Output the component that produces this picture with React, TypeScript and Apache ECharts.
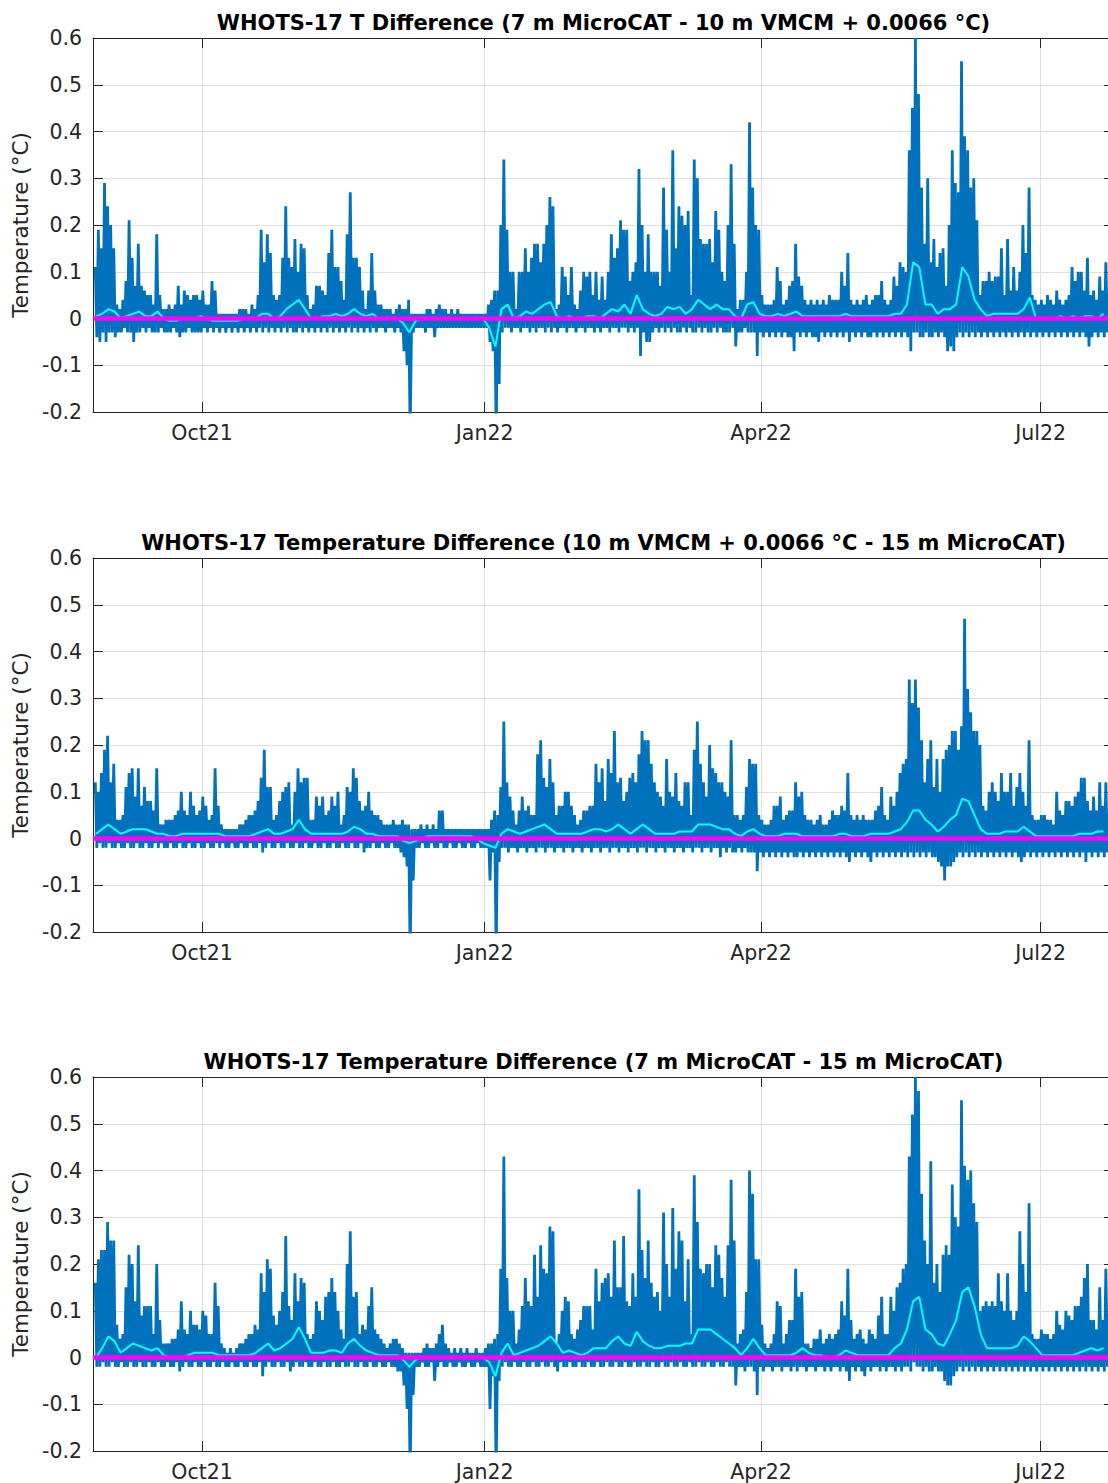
import React, { useEffect, useRef } from "react";
import * as echarts from "echarts";

// Daily upper / lower envelopes of the hourly differences (°C), day 0 = 27 Aug 2021
const p1Hi = [
  0.11,0.19,0.15,0.29,0.24,0.20,0.15,0.03,0.02,0.04,
  0.08,0.21,0.13,0.07,0.16,0.07,0.06,0.05,0.05,0.03,
  0.18,0.05,0.02,0.02,0.03,0.02,0.03,0.07,0.03,0.06,
  0.05,0.04,0.05,0.05,0.04,0.06,0.03,0.03,0.08,0.06,
  0.01,0.01,0.01,0.01,0.01,0.01,0.01,0.02,0.02,0.02,
  0.01,0.03,0.02,0.05,0.19,0.12,0.18,0.14,0.05,0.04,
  0.05,0.13,0.24,0.13,0.11,0.17,0.10,0.16,0.15,0.05,
  0.02,0.03,0.07,0.07,0.06,0.05,0.14,0.19,0.11,0.11,
  0.08,0.04,0.18,0.27,0.13,0.13,0.11,0.06,0.02,0.06,
  0.14,0.06,0.03,0.03,0.02,0.02,0.02,0.01,0.02,0.03,
  0.02,0.02,0.04,0.01,0.01,0.01,0.01,0.01,0.02,0.02,
  0.01,0.02,0.03,0.02,0.02,0.01,0.02,0.01,0.02,0.01,
  0.01,0.01,0.01,0.01,0.01,0.01,0.01,0.01,0.03,0.04,
  0.06,0.06,0.20,0.34,0.19,0.10,0.10,0.02,0.10,0.10,
  0.15,0.10,0.13,0.16,0.16,0.12,0.16,0.20,0.26,0.24,
  0.02,0.03,0.11,0.09,0.05,0.11,0.03,0.02,0.06,0.10,
  0.09,0.10,0.05,0.10,0.04,0.09,0.04,0.10,0.18,0.13,
  0.15,0.21,0.19,0.19,0.08,0.10,0.12,0.32,0.20,0.10,
  0.18,0.10,0.10,0.10,0.07,0.28,0.19,0.10,0.36,0.15,
  0.24,0.22,0.20,0.23,0.05,0.34,0.30,0.17,0.16,0.16,
  0.17,0.12,0.23,0.19,0.10,0.08,0.20,0.33,0.16,0.02,
  0.04,0.04,0.10,0.42,0.28,0.20,0.19,0.05,0.03,0.03,
  0.03,0.04,0.11,0.08,0.03,0.04,0.07,0.08,0.16,0.09,
  0.07,0.04,0.03,0.04,0.03,0.04,0.03,0.04,0.03,0.05,
  0.04,0.04,0.04,0.10,0.07,0.14,0.04,0.03,0.04,0.03,
  0.04,0.05,0.03,0.04,0.05,0.05,0.08,0.04,0.03,0.04,
  0.09,0.07,0.12,0.11,0.10,0.36,0.45,0.60,0.48,0.28,
  0.16,0.30,0.12,0.17,0.11,0.14,0.15,0.07,0.20,0.36,
  0.29,0.27,0.55,0.39,0.36,0.28,0.30,0.21,0.05,0.08,
  0.08,0.10,0.08,0.09,0.09,0.15,0.05,0.17,0.06,0.11,
  0.06,0.10,0.20,0.14,0.28,0.05,0.04,0.03,0.04,0.03,
  0.05,0.04,0.03,0.06,0.04,0.03,0.04,0.05,0.11,0.08,
  0.10,0.10,0.06,0.13,0.05,0.06,0.04,0.09,0.06,0.12,
];
const p1Lo = [
  -0.04,-0.05,-0.03,-0.05,-0.03,-0.03,-0.04,-0.03,-0.03,-0.02,
  -0.03,-0.03,-0.05,-0.03,-0.03,-0.02,-0.03,-0.02,-0.03,-0.03,
  -0.03,-0.02,-0.03,-0.03,-0.03,-0.02,-0.03,-0.04,-0.03,-0.03,
  -0.02,-0.03,-0.03,-0.03,-0.03,-0.02,-0.03,-0.02,-0.03,-0.02,
  -0.03,-0.02,-0.03,-0.02,-0.03,-0.02,-0.03,-0.02,-0.03,-0.02,
  -0.03,-0.02,-0.03,-0.02,-0.03,-0.02,-0.03,-0.02,-0.03,-0.02,
  -0.03,-0.02,-0.03,-0.02,-0.03,-0.03,-0.02,-0.03,-0.02,-0.03,
  -0.02,-0.03,-0.02,-0.03,-0.02,-0.03,-0.02,-0.03,-0.02,-0.03,
  -0.02,-0.03,-0.02,-0.03,-0.02,-0.03,-0.02,-0.03,-0.02,-0.03,
  -0.02,-0.03,-0.02,-0.02,-0.03,-0.02,-0.02,-0.03,-0.02,-0.03,
  -0.07,-0.10,-0.25,-0.03,-0.02,-0.02,-0.02,-0.03,-0.02,-0.02,
  -0.04,-0.02,-0.02,-0.02,-0.02,-0.02,-0.02,-0.02,-0.02,-0.02,
  -0.02,-0.02,-0.02,-0.02,-0.02,-0.02,-0.02,-0.02,-0.05,-0.07,
  -0.25,-0.14,-0.03,-0.02,-0.02,-0.03,-0.02,-0.02,-0.03,-0.02,
  -0.02,-0.03,-0.02,-0.03,-0.02,-0.02,-0.03,-0.02,-0.03,-0.02,
  -0.03,-0.02,-0.02,-0.03,-0.02,-0.02,-0.03,-0.02,-0.02,-0.03,
  -0.02,-0.02,-0.03,-0.02,-0.03,-0.02,-0.02,-0.03,-0.02,-0.02,
  -0.03,-0.02,-0.02,-0.03,-0.02,-0.03,-0.02,-0.08,-0.03,-0.05,
  -0.05,-0.03,-0.02,-0.03,-0.02,-0.03,-0.02,-0.03,-0.02,-0.03,
  -0.03,-0.02,-0.03,-0.02,-0.03,-0.03,-0.02,-0.03,-0.02,-0.03,
  -0.03,-0.02,-0.03,-0.02,-0.03,-0.03,-0.03,-0.02,-0.06,-0.03,
  -0.03,-0.02,-0.03,-0.03,-0.03,-0.08,-0.03,-0.04,-0.03,-0.04,
  -0.03,-0.04,-0.03,-0.04,-0.03,-0.04,-0.04,-0.07,-0.03,-0.04,
  -0.03,-0.04,-0.03,-0.04,-0.04,-0.05,-0.03,-0.04,-0.03,-0.04,
  -0.03,-0.04,-0.03,-0.04,-0.03,-0.05,-0.03,-0.04,-0.03,-0.04,
  -0.03,-0.04,-0.04,-0.03,-0.04,-0.03,-0.04,-0.03,-0.04,-0.03,
  -0.04,-0.03,-0.04,-0.03,-0.04,-0.07,-0.03,-0.03,-0.04,-0.04,
  -0.03,-0.04,-0.04,-0.03,-0.04,-0.03,-0.04,-0.07,-0.06,-0.07,
  -0.04,-0.03,-0.04,-0.03,-0.04,-0.03,-0.04,-0.03,-0.04,-0.03,
  -0.04,-0.03,-0.04,-0.03,-0.04,-0.03,-0.04,-0.03,-0.04,-0.03,
  -0.04,-0.03,-0.04,-0.03,-0.04,-0.03,-0.04,-0.03,-0.04,-0.03,
  -0.04,-0.03,-0.04,-0.03,-0.04,-0.03,-0.04,-0.03,-0.04,-0.03,
  -0.04,-0.03,-0.04,-0.06,-0.04,-0.03,-0.04,-0.03,-0.04,-0.03,
];

const p2Hi = [
  0.12,0.10,0.14,0.19,0.22,0.12,0.16,0.04,0.04,0.05,
  0.11,0.14,0.15,0.09,0.15,0.07,0.11,0.08,0.08,0.06,
  0.15,0.03,0.03,0.04,0.04,0.04,0.05,0.06,0.10,0.06,
  0.05,0.10,0.07,0.05,0.06,0.09,0.07,0.04,0.05,0.15,
  0.07,0.03,0.02,0.02,0.02,0.02,0.02,0.03,0.03,0.04,
  0.05,0.05,0.06,0.08,0.13,0.19,0.11,0.11,0.04,0.05,
  0.08,0.10,0.11,0.12,0.03,0.10,0.15,0.12,0.13,0.13,
  0.04,0.04,0.09,0.07,0.09,0.05,0.06,0.09,0.07,0.10,
  0.03,0.05,0.11,0.10,0.15,0.13,0.08,0.06,0.07,0.10,
  0.06,0.05,0.05,0.04,0.03,0.03,0.03,0.04,0.03,0.03,
  0.04,0.03,0.03,0.02,0.02,0.02,0.03,0.02,0.03,0.02,
  0.03,0.02,0.06,0.06,0.02,0.02,0.02,0.02,0.02,0.02,
  0.02,0.02,0.02,0.02,0.02,0.02,0.02,0.02,0.02,0.04,
  0.06,0.05,0.11,0.25,0.12,0.09,0.06,0.03,0.06,0.09,
  0.06,0.07,0.05,0.05,0.18,0.21,0.13,0.11,0.17,0.12,
  0.05,0.07,0.07,0.10,0.10,0.07,0.05,0.03,0.04,0.06,
  0.06,0.07,0.07,0.16,0.12,0.15,0.08,0.17,0.14,0.23,
  0.12,0.13,0.08,0.10,0.13,0.14,0.12,0.18,0.23,0.21,
  0.21,0.16,0.12,0.10,0.09,0.07,0.17,0.10,0.09,0.14,
  0.08,0.07,0.12,0.12,0.05,0.19,0.25,0.16,0.12,0.09,
  0.20,0.15,0.14,0.12,0.12,0.10,0.09,0.21,0.05,0.05,
  0.04,0.05,0.11,0.17,0.16,0.16,0.05,0.04,0.03,0.03,
  0.04,0.07,0.07,0.09,0.04,0.05,0.06,0.06,0.12,0.09,
  0.10,0.05,0.04,0.04,0.03,0.04,0.05,0.03,0.03,0.04,
  0.06,0.05,0.05,0.07,0.06,0.14,0.05,0.04,0.05,0.04,
  0.05,0.04,0.04,0.04,0.06,0.07,0.11,0.05,0.04,0.09,
  0.07,0.10,0.14,0.16,0.17,0.34,0.29,0.34,0.28,0.21,
  0.12,0.17,0.21,0.11,0.17,0.10,0.17,0.19,0.20,0.23,
  0.23,0.19,0.24,0.47,0.32,0.27,0.23,0.23,0.20,0.07,
  0.06,0.10,0.12,0.10,0.08,0.14,0.10,0.10,0.14,0.07,
  0.11,0.14,0.10,0.07,0.21,0.05,0.04,0.04,0.05,0.05,
  0.04,0.04,0.03,0.10,0.06,0.05,0.08,0.08,0.07,0.09,
  0.10,0.13,0.13,0.08,0.06,0.09,0.06,0.12,0.07,0.12,
];
const p2Lo = [
  -0.02,-0.01,-0.02,-0.02,-0.01,-0.02,-0.02,-0.01,-0.02,-0.02,
  -0.01,-0.02,-0.02,-0.01,-0.02,-0.02,-0.01,-0.02,-0.02,-0.01,
  -0.02,-0.01,-0.02,-0.02,-0.01,-0.02,-0.02,-0.01,-0.02,-0.02,
  -0.01,-0.02,-0.02,-0.01,-0.02,-0.02,-0.01,-0.02,-0.02,-0.01,
  -0.02,-0.01,-0.02,-0.02,-0.01,-0.02,-0.02,-0.01,-0.02,-0.02,
  -0.01,-0.02,-0.02,-0.01,-0.03,-0.02,-0.01,-0.02,-0.02,-0.01,
  -0.02,-0.02,-0.01,-0.02,-0.02,-0.01,-0.02,-0.02,-0.01,-0.02,
  -0.02,-0.01,-0.02,-0.02,-0.01,-0.02,-0.02,-0.01,-0.02,-0.02,
  -0.01,-0.02,-0.02,-0.01,-0.02,-0.02,-0.01,-0.03,-0.02,-0.02,
  -0.01,-0.02,-0.02,-0.01,-0.02,-0.02,-0.01,-0.02,-0.02,-0.03,
  -0.04,-0.06,-0.25,-0.09,-0.02,-0.02,-0.01,-0.02,-0.02,-0.01,
  -0.02,-0.02,-0.01,-0.02,-0.02,-0.01,-0.02,-0.02,-0.01,-0.02,
  -0.02,-0.01,-0.02,-0.02,-0.01,-0.02,-0.02,-0.02,-0.09,-0.03,
  -0.25,-0.05,-0.02,-0.02,-0.03,-0.02,-0.02,-0.03,-0.02,-0.02,
  -0.03,-0.02,-0.02,-0.03,-0.02,-0.02,-0.03,-0.02,-0.02,-0.03,
  -0.02,-0.02,-0.03,-0.02,-0.02,-0.03,-0.02,-0.02,-0.03,-0.02,
  -0.02,-0.03,-0.02,-0.02,-0.03,-0.02,-0.02,-0.03,-0.02,-0.02,
  -0.03,-0.02,-0.02,-0.03,-0.02,-0.02,-0.03,-0.02,-0.02,-0.03,
  -0.02,-0.02,-0.03,-0.02,-0.02,-0.03,-0.02,-0.02,-0.03,-0.02,
  -0.02,-0.03,-0.02,-0.02,-0.03,-0.02,-0.02,-0.03,-0.02,-0.02,
  -0.03,-0.02,-0.02,-0.04,-0.02,-0.03,-0.02,-0.03,-0.03,-0.02,
  -0.03,-0.02,-0.03,-0.03,-0.03,-0.07,-0.03,-0.04,-0.03,-0.04,
  -0.03,-0.04,-0.03,-0.04,-0.03,-0.04,-0.03,-0.04,-0.04,-0.03,
  -0.04,-0.03,-0.04,-0.03,-0.04,-0.03,-0.04,-0.03,-0.04,-0.03,
  -0.04,-0.03,-0.04,-0.03,-0.04,-0.05,-0.03,-0.04,-0.03,-0.04,
  -0.03,-0.04,-0.05,-0.03,-0.04,-0.03,-0.04,-0.03,-0.04,-0.03,
  -0.04,-0.03,-0.04,-0.03,-0.04,-0.03,-0.04,-0.03,-0.04,-0.03,
  -0.04,-0.03,-0.04,-0.04,-0.05,-0.06,-0.09,-0.06,-0.06,-0.05,
  -0.04,-0.03,-0.04,-0.03,-0.04,-0.03,-0.04,-0.03,-0.04,-0.03,
  -0.04,-0.03,-0.04,-0.03,-0.04,-0.03,-0.04,-0.03,-0.04,-0.03,
  -0.04,-0.05,-0.04,-0.03,-0.04,-0.03,-0.04,-0.03,-0.04,-0.03,
  -0.04,-0.03,-0.04,-0.03,-0.04,-0.03,-0.04,-0.03,-0.04,-0.03,
  -0.04,-0.03,-0.05,-0.03,-0.04,-0.03,-0.04,-0.03,-0.04,-0.03,
];

const p3Hi = [
  0.16,0.21,0.23,0.23,0.29,0.25,0.25,0.07,0.04,0.05,
  0.15,0.22,0.20,0.12,0.24,0.09,0.11,0.11,0.11,0.05,
  0.20,0.08,0.03,0.03,0.03,0.04,0.04,0.06,0.12,0.06,
  0.05,0.10,0.07,0.07,0.06,0.10,0.09,0.05,0.05,0.16,
  0.11,0.03,0.02,0.01,0.02,0.01,0.02,0.03,0.03,0.04,
  0.05,0.05,0.07,0.06,0.18,0.14,0.21,0.19,0.09,0.07,
  0.10,0.14,0.26,0.11,0.08,0.18,0.12,0.17,0.16,0.05,
  0.04,0.05,0.12,0.10,0.08,0.13,0.14,0.17,0.14,0.10,
  0.06,0.04,0.20,0.27,0.13,0.14,0.05,0.07,0.06,0.11,
  0.15,0.06,0.05,0.04,0.03,0.02,0.03,0.04,0.04,0.03,
  0.02,0.01,0.01,0.01,0.01,0.01,0.01,0.02,0.03,0.02,
  0.02,0.03,0.05,0.07,0.03,0.02,0.01,0.02,0.01,0.02,
  0.01,0.02,0.01,0.01,0.02,0.01,0.01,0.02,0.03,0.03,
  0.04,0.05,0.19,0.43,0.17,0.10,0.10,0.03,0.06,0.11,
  0.17,0.12,0.11,0.22,0.13,0.24,0.19,0.18,0.28,0.27,
  0.03,0.05,0.10,0.13,0.12,0.05,0.04,0.06,0.08,0.11,
  0.11,0.11,0.06,0.19,0.12,0.16,0.17,0.18,0.13,0.25,
  0.15,0.15,0.26,0.12,0.11,0.18,0.13,0.36,0.23,0.17,
  0.25,0.16,0.13,0.14,0.10,0.31,0.20,0.13,0.32,0.19,
  0.27,0.25,0.12,0.21,0.05,0.39,0.29,0.19,0.18,0.20,
  0.20,0.15,0.24,0.22,0.17,0.13,0.24,0.38,0.25,0.03,
  0.05,0.06,0.14,0.40,0.35,0.21,0.21,0.07,0.03,0.02,
  0.03,0.05,0.12,0.11,0.03,0.05,0.08,0.08,0.19,0.13,
  0.14,0.03,0.03,0.02,0.04,0.04,0.06,0.03,0.04,0.05,
  0.04,0.05,0.06,0.12,0.09,0.19,0.08,0.04,0.05,0.06,
  0.04,0.03,0.06,0.05,0.04,0.09,0.13,0.05,0.05,0.13,
  0.10,0.15,0.16,0.19,0.20,0.43,0.52,0.60,0.57,0.35,
  0.25,0.20,0.42,0.16,0.20,0.14,0.22,0.24,0.22,0.37,
  0.30,0.28,0.55,0.41,0.38,0.40,0.33,0.29,0.10,0.11,
  0.12,0.11,0.12,0.11,0.18,0.12,0.10,0.18,0.10,0.08,
  0.10,0.27,0.20,0.14,0.33,0.05,0.04,0.04,0.06,0.05,
  0.05,0.04,0.05,0.10,0.07,0.06,0.10,0.09,0.08,0.11,
  0.11,0.13,0.17,0.20,0.08,0.08,0.06,0.15,0.08,0.19,
];
const p3Lo = [
  -0.02,-0.02,-0.01,-0.02,-0.02,-0.01,-0.02,-0.02,-0.01,-0.02,
  -0.02,-0.01,-0.02,-0.02,-0.01,-0.02,-0.02,-0.01,-0.02,-0.02,
  -0.01,-0.02,-0.02,-0.01,-0.02,-0.02,-0.01,-0.03,-0.02,-0.01,
  -0.02,-0.02,-0.01,-0.02,-0.02,-0.01,-0.02,-0.02,-0.01,-0.02,
  -0.02,-0.01,-0.02,-0.02,-0.01,-0.02,-0.02,-0.01,-0.02,-0.02,
  -0.01,-0.02,-0.02,-0.01,-0.04,-0.02,-0.01,-0.02,-0.02,-0.01,
  -0.02,-0.02,-0.01,-0.03,-0.02,-0.01,-0.02,-0.02,-0.01,-0.02,
  -0.02,-0.01,-0.02,-0.02,-0.01,-0.02,-0.02,-0.01,-0.02,-0.02,
  -0.01,-0.02,-0.02,-0.01,-0.02,-0.02,-0.01,-0.02,-0.02,-0.01,
  -0.02,-0.02,-0.01,-0.02,-0.02,-0.01,-0.02,-0.02,-0.03,-0.03,
  -0.06,-0.11,-0.25,-0.08,-0.02,-0.02,-0.01,-0.02,-0.02,-0.01,
  -0.05,-0.02,-0.01,-0.02,-0.02,-0.01,-0.02,-0.02,-0.01,-0.02,
  -0.02,-0.01,-0.02,-0.02,-0.01,-0.02,-0.02,-0.02,-0.11,-0.04,
  -0.25,-0.05,-0.02,-0.01,-0.02,-0.02,-0.01,-0.02,-0.02,-0.01,
  -0.02,-0.02,-0.01,-0.02,-0.02,-0.01,-0.02,-0.02,-0.01,-0.02,
  -0.03,-0.01,-0.02,-0.02,-0.01,-0.02,-0.02,-0.01,-0.02,-0.02,
  -0.01,-0.02,-0.02,-0.01,-0.02,-0.02,-0.01,-0.02,-0.02,-0.01,
  -0.02,-0.02,-0.01,-0.02,-0.02,-0.01,-0.02,-0.02,-0.01,-0.02,
  -0.02,-0.01,-0.02,-0.02,-0.01,-0.02,-0.02,-0.01,-0.02,-0.02,
  -0.01,-0.02,-0.02,-0.01,-0.02,-0.02,-0.01,-0.02,-0.02,-0.01,
  -0.02,-0.02,-0.01,-0.02,-0.02,-0.01,-0.02,-0.02,-0.06,-0.02,
  -0.02,-0.03,-0.02,-0.02,-0.03,-0.08,-0.02,-0.03,-0.02,-0.02,
  -0.03,-0.02,-0.02,-0.03,-0.02,-0.02,-0.03,-0.02,-0.03,-0.02,
  -0.02,-0.03,-0.02,-0.02,-0.03,-0.02,-0.02,-0.03,-0.02,-0.03,
  -0.02,-0.02,-0.03,-0.02,-0.03,-0.05,-0.02,-0.03,-0.02,-0.03,
  -0.04,-0.02,-0.03,-0.02,-0.02,-0.03,-0.02,-0.03,-0.02,-0.02,
  -0.03,-0.02,-0.03,-0.02,-0.02,-0.03,-0.01,-0.02,-0.02,-0.03,
  -0.02,-0.03,-0.03,-0.02,-0.03,-0.03,-0.05,-0.06,-0.06,-0.04,
  -0.03,-0.02,-0.03,-0.02,-0.03,-0.02,-0.03,-0.02,-0.03,-0.02,
  -0.03,-0.02,-0.03,-0.02,-0.03,-0.02,-0.03,-0.02,-0.03,-0.02,
  -0.03,-0.02,-0.03,-0.02,-0.03,-0.02,-0.03,-0.02,-0.03,-0.02,
  -0.03,-0.02,-0.03,-0.02,-0.03,-0.02,-0.03,-0.02,-0.03,-0.02,
  -0.03,-0.02,-0.03,-0.02,-0.03,-0.02,-0.03,-0.02,-0.03,-0.02,
];

// Low-passed difference (°C), one value every second day from day 0
const p1Smooth = [
  0.005,0.01,0.02,0.015,0.0,0.005,0.01,0.015,0.005,0.005,
  0.015,0.0,-0.005,-0.005,0.0,0.0,0.0,0.005,0.0,-0.005,
  -0.005,-0.005,-0.005,-0.005,0.0,0.0,0.0,0.01,0.01,0.0,
  0.005,0.02,0.03,0.04,0.02,0.0,0.0,0.005,0.005,0.01,
  0.005,0.01,0.02,0.01,0.005,0.01,0.0,0.0,0.0,0.0,
  -0.01,-0.03,-0.005,0.0,0.0,0.0,0.0,0.0,0.0,0.0,
  0.0,0.0,0.0,0.0,-0.02,-0.06,0.02,0.03,0.0,0.005,
  0.015,0.01,0.02,0.03,0.035,0.005,0.0,0.005,0.0,0.0,
  0.005,0.005,0.0,0.01,0.02,0.015,0.03,0.01,0.05,0.02,
  0.01,0.005,0.01,0.025,0.02,0.025,0.01,0.02,0.04,0.03,
  0.02,0.03,0.02,0.02,0.005,0.0,0.03,0.035,0.01,0.005,
  0.005,0.01,0.005,0.01,0.015,0.005,0.005,0.005,0.005,0.005,
  0.005,0.005,0.01,0.005,0.005,0.005,0.005,0.005,0.005,0.005,
  0.01,0.01,0.03,0.12,0.11,0.03,0.03,0.01,0.02,0.02,
  0.03,0.11,0.09,0.04,0.02,0.005,0.01,0.01,0.01,0.01,
  0.01,0.02,0.045,0.0,0.0,0.0,0.0,0.005,0.0,0.005,
  0.0,0.005,0.005,0.0,0.01,
];
const p2Smooth = [
  0.01,0.02,0.03,0.02,0.01,0.015,0.02,0.02,0.02,0.015,
  0.01,0.01,0.005,0.005,0.01,0.01,0.01,0.01,0.01,0.01,
  0.01,0.005,0.005,0.005,0.005,0.005,0.01,0.015,0.02,0.01,
  0.01,0.015,0.02,0.04,0.02,0.01,0.01,0.01,0.01,0.01,
  0.01,0.015,0.025,0.02,0.01,0.01,0.005,0.005,0.005,0.005,
  -0.005,-0.01,-0.005,0.0,0.005,0.005,0.005,0.005,0.005,0.005,
  0.005,0.005,0.0,-0.01,-0.015,-0.02,0.01,0.02,0.015,0.01,
  0.015,0.02,0.025,0.03,0.02,0.01,0.01,0.01,0.01,0.01,
  0.015,0.02,0.02,0.015,0.02,0.03,0.02,0.01,0.02,0.03,
  0.02,0.01,0.01,0.01,0.01,0.015,0.015,0.015,0.03,0.03,
  0.03,0.025,0.02,0.02,0.01,0.005,0.015,0.02,0.01,0.005,
  0.005,0.005,0.01,0.01,0.01,0.005,0.005,0.005,0.005,0.005,
  0.005,0.01,0.01,0.005,0.005,0.005,0.01,0.01,0.01,0.01,
  0.015,0.02,0.035,0.06,0.06,0.04,0.03,0.015,0.025,0.04,
  0.05,0.085,0.08,0.05,0.02,0.01,0.01,0.01,0.015,0.015,
  0.015,0.025,0.015,0.005,0.005,0.005,0.005,0.005,0.005,0.005,
  0.01,0.01,0.01,0.015,0.015,
];
const p3Smooth = [
  0.0,0.02,0.045,0.035,0.01,0.02,0.03,0.025,0.02,0.015,
  0.02,0.005,0.0,0.0,0.0,0.005,0.01,0.01,0.01,0.01,
  0.005,0.005,0.005,0.005,0.005,0.005,0.01,0.02,0.03,0.015,
  0.02,0.03,0.04,0.065,0.04,0.01,0.01,0.01,0.015,0.015,
  0.01,0.03,0.04,0.025,0.015,0.01,0.005,0.005,0.005,0.005,
  -0.005,-0.02,-0.005,0.0,0.0,0.0,0.0,0.0,0.0,0.0,
  0.0,0.0,0.0,0.0,-0.01,-0.04,0.01,0.03,0.005,0.01,
  0.015,0.02,0.025,0.035,0.045,0.03,0.01,0.015,0.01,0.005,
  0.01,0.02,0.02,0.02,0.035,0.045,0.03,0.025,0.055,0.035,
  0.025,0.02,0.02,0.025,0.025,0.025,0.03,0.03,0.06,0.06,
  0.06,0.05,0.04,0.03,0.02,0.005,0.02,0.04,0.02,0.005,
  0.005,0.005,0.005,0.005,0.01,0.02,0.01,0.005,0.005,0.0,
  0.0,0.005,0.015,0.01,0.005,0.005,0.005,0.005,0.005,0.005,
  0.02,0.03,0.06,0.12,0.13,0.06,0.05,0.03,0.025,0.05,
  0.08,0.14,0.15,0.11,0.05,0.02,0.02,0.02,0.02,0.02,
  0.025,0.045,0.035,0.02,0.005,0.005,0.005,0.005,0.005,0.005,
  0.01,0.015,0.02,0.015,0.02,
];

const panelTitles = [
  "WHOTS-17 T Difference (7 m MicroCAT - 10 m VMCM + 0.0066 °C)",
  "WHOTS-17 Temperature Difference (10 m VMCM + 0.0066 °C - 15 m MicroCAT)",
  "WHOTS-17 Temperature Difference (7 m MicroCAT - 15 m MicroCAT)",
];
const tickLabels = ["Oct21", "Jan22", "Apr22", "Jul22"];
const tickTimes = [
  Date.UTC(2021, 9, 1),
  Date.UTC(2022, 0, 1),
  Date.UTC(2022, 3, 1),
  Date.UTC(2022, 6, 1),
];
const yAxisName = "Temperature (°C)";

const DAY = 86400000;
const T0 = Date.UTC(2021, 7, 27);
const X_MIN = Date.UTC(2021, 7, 26, 12);
const X_MAX = Date.UTC(2022, 6, 24, 21, 36);

const BLUE = "#0072BD";
const CYAN = "#00FFFF";
const MAGENTA = "#FF00FF";
const INK = "#262626";
const GRIDLINE = "#e0e0e0";
const FONT = "DejaVu Sans";

// the axes box runs a little past the right edge of the page
const CHART_WIDTH = 1124;
const PAGE_WIDTH = 1108;
const PAGE_HEIGHT = 1483;
const GRID_LEFT = 93;
const GRID_WIDTH = 1021;
const GRID_HEIGHT = 374;
const PANEL_TOPS = [38, 558, 1077];

// zig-zag through each day's maximum then minimum
function envelope(hi: number[], lo: number[]) {
  const pts: [number, number][] = [];
  hi.forEach((h, i) => {
    pts.push([T0 + (i + 0.25) * DAY, h]);
    pts.push([T0 + (i + 0.75) * DAY, lo[i]]);
  });
  return pts;
}

function everyOtherDay(vals: number[]) {
  return vals.map((v, k) => [T0 + (2 * k + 0.5) * DAY, v] as [number, number]);
}

function fmtY(v: number) {
  if (Math.abs(v) < 1e-9) return "0";
  return v.toFixed(1);
}

function fmtX(v: number) {
  let best = 0;
  tickTimes.forEach((t, k) => {
    if (Math.abs(t - v) < Math.abs(tickTimes[best] - v)) best = k;
  });
  return tickLabels[best];
}

export default function App() {
  const ref = useRef<HTMLDivElement>(null);

  useEffect(() => {
    if (!ref.current) return;
    const chart = echarts.init(ref.current, undefined, { renderer: "svg" });

    const panels = [
      { hi: p1Hi, lo: p1Lo, sm: p1Smooth },
      { hi: p2Hi, lo: p2Lo, sm: p2Smooth },
      { hi: p3Hi, lo: p3Lo, sm: p3Smooth },
    ];

    const grid: any[] = [];
    const xAxis: any[] = [];
    const yAxis: any[] = [];
    const series: any[] = [];
    const graphic: any[] = [];

    panels.forEach((p, i) => {
      grid.push({
        left: GRID_LEFT,
        top: PANEL_TOPS[i],
        width: GRID_WIDTH,
        height: GRID_HEIGHT,
        containLabel: false,
      });

      const tickStyle = {
        show: true,
        inside: true,
        length: 10,
        customValues: tickTimes,
        lineStyle: { color: INK, width: 1 },
      };

      xAxis.push({
        type: "value",
        gridIndex: i,
        min: X_MIN,
        max: X_MAX,
        position: "bottom",
        axisLine: { show: true, onZero: false, lineStyle: { color: INK, width: 1 } },
        axisTick: tickStyle,
        axisLabel: {
          customValues: tickTimes,
          formatter: fmtX,
          color: INK,
          fontSize: 20.5,
          fontFamily: FONT,
          margin: 10,
        },
        splitLine: { show: true, lineStyle: { color: GRIDLINE, width: 1 } },
      });
      xAxis.push({
        type: "value",
        gridIndex: i,
        min: X_MIN,
        max: X_MAX,
        position: "top",
        axisLine: { show: true, onZero: false, lineStyle: { color: INK, width: 1 } },
        axisTick: tickStyle,
        axisLabel: { show: false },
        splitLine: { show: false },
      });

      const yTick = { show: true, inside: true, length: 10, lineStyle: { color: INK, width: 1 } };
      yAxis.push({
        type: "value",
        gridIndex: i,
        min: -0.2,
        max: 0.6,
        interval: 0.1,
        position: "left",
        name: yAxisName,
        nameLocation: "middle",
        nameGap: 55,
        nameTextStyle: { color: INK, fontSize: 21.5, fontFamily: FONT },
        axisLine: { show: true, onZero: false, lineStyle: { color: INK, width: 1 } },
        axisTick: yTick,
        axisLabel: { formatter: fmtY, color: INK, fontSize: 20.5, fontFamily: FONT, margin: 11 },
        splitLine: { show: true, lineStyle: { color: GRIDLINE, width: 1 } },
      });
      yAxis.push({
        type: "value",
        gridIndex: i,
        min: -0.2,
        max: 0.6,
        interval: 0.1,
        position: "right",
        axisLine: { show: true, onZero: false, lineStyle: { color: INK, width: 1 } },
        axisTick: yTick,
        axisLabel: { show: false },
        splitLine: { show: false },
      });

      const xi = i * 2;
      const yi = i * 2;
      series.push({
        type: "line",
        xAxisIndex: xi,
        yAxisIndex: yi,
        data: envelope(p.hi, p.lo),
        showSymbol: false,
        symbol: "none",
        silent: true,
        lineStyle: { color: BLUE, width: 2.8 },
        z: 2,
      });
      series.push({
        type: "line",
        xAxisIndex: xi,
        yAxisIndex: yi,
        data: everyOtherDay(p.sm),
        showSymbol: false,
        symbol: "none",
        silent: true,
        lineStyle: { color: CYAN, width: 2 },
        z: 3,
      });
      series.push({
        type: "line",
        xAxisIndex: xi,
        yAxisIndex: yi,
        data: [
          [X_MIN, 0],
          [X_MAX, 0],
        ],
        showSymbol: false,
        symbol: "none",
        silent: true,
        lineStyle: { color: MAGENTA, width: 4.5 },
        z: 4,
      });

      graphic.push({
        type: "text",
        x: GRID_LEFT + GRID_WIDTH / 2,
        y: PANEL_TOPS[i] - 15,
        style: {
          text: panelTitles[i],
          fill: "#000",
          fontSize: 21,
          fontWeight: "bold",
          fontFamily: FONT,
          align: "center",
          verticalAlign: "middle",
        },
      });
    });

    chart.setOption({
      animation: false,
      backgroundColor: "#ffffff",
      grid,
      xAxis,
      yAxis,
      series,
      graphic,
    });

    return () => chart.dispose();
  }, []);

  return (
    <div
      style={{
        position: "absolute",
        left: 0,
        top: 0,
        width: PAGE_WIDTH,
        height: PAGE_HEIGHT,
        overflow: "hidden",
        background: "#fff",
      }}
    >
      <div ref={ref} style={{ width: CHART_WIDTH, height: PAGE_HEIGHT }} />
    </div>
  );
}
